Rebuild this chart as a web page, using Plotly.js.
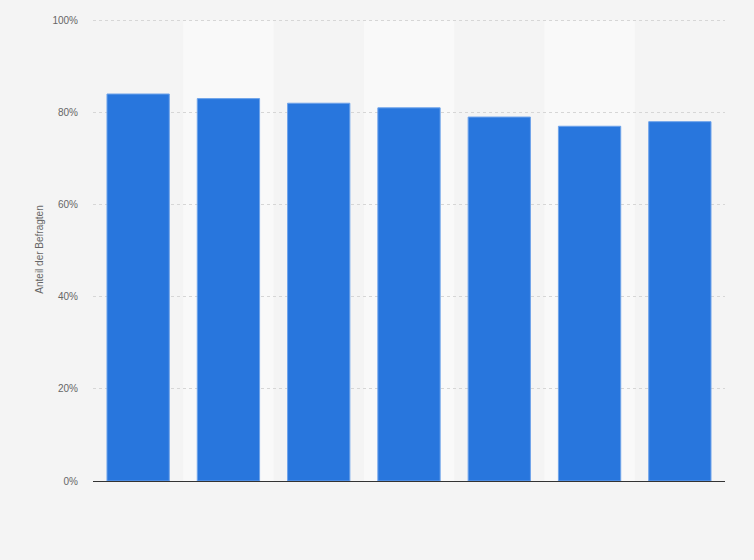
<!DOCTYPE html>
<html>
<head>
<meta charset="utf-8">
<script src="https://cdn.plot.ly/plotly-3.0.1.min.js"></script>
<style>
  html, body {margin:0; padding:0; background:#f4f4f4;}
  #chart {width:754px; height:560px;}
</style>
</head>
<body>
<div id="chart"></div>
<script>
// no category labels are shown in the source picture
const categories = ["1", "2", "3", "4", "5", "6", "7"];
const shares = [84, 83, 82, 81, 79, 77, 78];
const yTicks = [0, 20, 40, 60, 80, 100];
const yTickLabels = ["0%", "20%", "40%", "60%", "80%", "100%"];

function makeBands(cats, top) {
    // lighter background band behind every second column
    return cats
        .map((c, i) => i)
        .filter(i => i % 2 === 1)
        .map(i => ({
            type: "rect", layer: "below",
            xref: "x", yref: "y",
            x0: i - 0.5, x1: i + 0.5, y0: 0, y1: top,
            fillcolor: "#f9f9f9", line: {width: 0}
        }));
}

const trace = {
    x: categories,
    y: shares,
    type: "bar",
    marker: {
        color: "#2876dd",
        line: {width: 1, color: "#6ea3ea"}
    },
    hovertemplate: "%{y}%<extra></extra>"
};

const layout = {
    width: 754, height: 560,
    margin: {l: 93, r: 29, t: 18, b: 79},
    paper_bgcolor: "#f4f4f4",
    plot_bgcolor: "#f4f4f4",
    bargap: 0.31,
    showlegend: false,
    font: {family: "Arial, Liberation Sans, sans-serif", color: "#666"},
    xaxis: {
        type: "category",
        showticklabels: false,
        showgrid: false,
        ticks: "",
        showline: false,
        zeroline: false
    },
    yaxis: {
        range: [0, 100.5],  // a bit above 100 so the top gridline is not clipped
        tickvals: yTicks,
        ticktext: yTickLabels,
        tickfont: {size: 10, color: "#666"},
        ticklen: 0,
        ticklabelstandoff: 14,
        gridcolor: "#d6d6d6",
        griddash: "dot",
        gridwidth: 1,
        zeroline: true,
        zerolinecolor: "#333",
        zerolinewidth: 1,
        title: {text: "Anteil der Befragten", font: {size: 10, color: "#666"}, standoff: 6}
    },
    shapes: makeBands(categories, yTicks[yTicks.length - 1])
};

Plotly.newPlot("chart", [trace], layout, {displayModeBar: false});
</script>
</body>
</html>
